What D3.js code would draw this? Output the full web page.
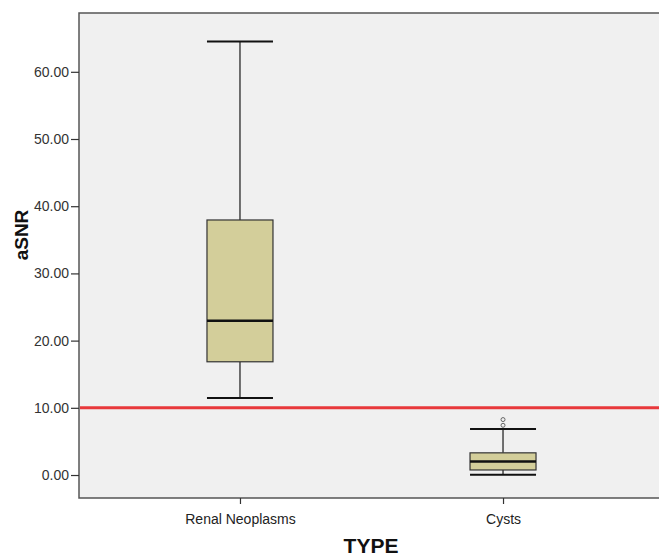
<!DOCTYPE html>
<html>
<head>
<meta charset="utf-8">
<script src="https://cdn.jsdelivr.net/npm/d3@7"></script>
<style>
  body { margin: 0; background: #fff; }
  svg { display: block; font-family: "Liberation Sans", Arial, sans-serif; }
</style>
</head>
<body>
<svg id="chart" width="659" height="558"></svg>
<script>
// data
const categories = ['Renal Neoplasms', 'Cysts'];
const whiskerLow = [11.45, 0.05];
const q1 = [16.85, 0.75];
const median = [22.95, 2.0];
const q3 = [37.95, 3.3];
const whiskerHigh = [64.5, 6.85];
const outliers = [[], [7.4, 8.25]];
const yTicks = [0, 10, 20, 30, 40, 50, 60];
const cutoff = 10;

const svg = d3.select('#chart');
const plot = { left: 79, top: 13, right: 664, bottom: 498 };

const y = d3.scaleLinear().domain([-3.42, 68.75]).range([plot.bottom, plot.top]);
const x = d3.scalePoint().domain(categories).range([plot.left, plot.right]).padding(0.612);
const boxW = 66;

// plot background
svg.append('rect')
  .attr('x', plot.left).attr('y', plot.top)
  .attr('width', plot.right - plot.left).attr('height', plot.bottom - plot.top)
  .attr('fill', '#f0f0f0').attr('stroke', '#555').attr('stroke-width', 1.5);

// y axis
const yAxis = svg.append('g')
  .attr('transform', `translate(${plot.left},0)`)
  .call(d3.axisLeft(y).tickValues(yTicks).tickFormat(d3.format('.2f')).tickSize(8).tickSizeOuter(0));
yAxis.select('.domain').remove();
yAxis.selectAll('line').attr('stroke', '#333').attr('stroke-width', 1.2);
yAxis.selectAll('text').attr('fill', '#333').style('font-size', '14px')
  .style('font-family', '"Liberation Sans", Arial, sans-serif').attr('x', -10);

// x axis
const xAxis = svg.append('g')
  .attr('transform', `translate(0,${plot.bottom})`)
  .call(d3.axisBottom(x).tickSize(6).tickSizeOuter(0));
xAxis.select('.domain').remove();
xAxis.selectAll('line').attr('stroke', '#333').attr('stroke-width', 1.2);
xAxis.selectAll('text').attr('fill', '#222').style('font-size', '14px')
  .style('font-family', '"Liberation Sans", Arial, sans-serif').attr('dy', '1.2em');

// axis titles
svg.append('text')
  .attr('transform', `translate(28,235) rotate(-90)`)
  .attr('text-anchor', 'middle')
  .style('font-size', '19px').style('font-weight', 'bold').attr('fill', '#111')
  .text('aSNR');
svg.append('text')
  .attr('x', 371).attr('y', 553)
  .attr('text-anchor', 'middle')
  .style('font-size', '21px').style('font-weight', 'bold').attr('fill', '#111')
  .text('TYPE');

// reference line
svg.append('line')
  .attr('x1', plot.left + 1).attr('x2', 659)
  .attr('y1', y(cutoff)).attr('y2', y(cutoff))
  .attr('stroke', '#e8383b').attr('stroke-width', 3);

// boxes
const boxes = svg.append('g');
categories.forEach((c, i) => {
  const cx = x(c);
  const g = boxes.append('g');
  // whisker stems
  g.append('line').attr('x1', cx).attr('x2', cx)
    .attr('y1', y(q3[i])).attr('y2', y(whiskerHigh[i]))
    .attr('stroke', '#444').attr('stroke-width', 1.5);
  g.append('line').attr('x1', cx).attr('x2', cx)
    .attr('y1', y(q1[i])).attr('y2', y(whiskerLow[i]))
    .attr('stroke', '#444').attr('stroke-width', 1.5);
  // caps
  [whiskerHigh[i], whiskerLow[i]].forEach(v => {
    g.append('line').attr('x1', cx - boxW / 2).attr('x2', cx + boxW / 2)
      .attr('y1', y(v)).attr('y2', y(v))
      .attr('stroke', '#111').attr('stroke-width', 2);
  });
  // box
  g.append('rect')
    .attr('x', cx - boxW / 2).attr('width', boxW)
    .attr('y', y(q3[i])).attr('height', y(q1[i]) - y(q3[i]))
    .attr('fill', '#d3ce9a').attr('stroke', '#333').attr('stroke-width', 1.2);
  // median
  g.append('line').attr('x1', cx - boxW / 2).attr('x2', cx + boxW / 2)
    .attr('y1', y(median[i])).attr('y2', y(median[i]))
    .attr('stroke', '#111').attr('stroke-width', 2.5);
  // outliers
  outliers[i].forEach(v => {
    g.append('circle').attr('cx', cx).attr('cy', y(v)).attr('r', 2)
      .attr('fill', 'none').attr('stroke', '#666').attr('stroke-width', 1);
  });
});
</script>
</body>
</html>
